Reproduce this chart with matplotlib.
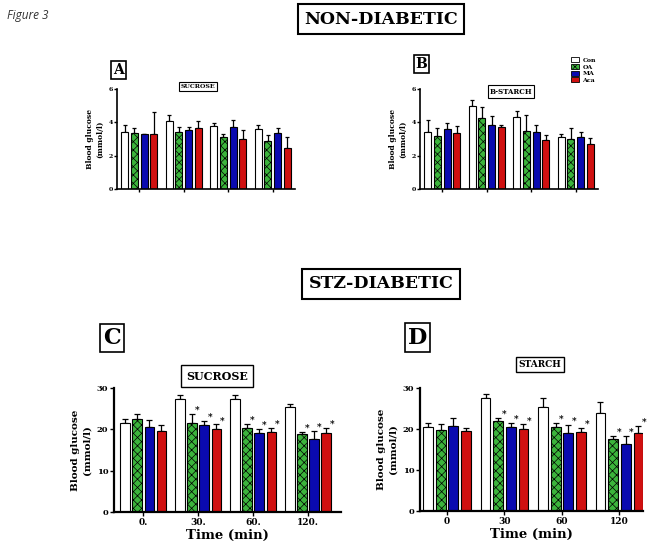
import numpy as np
import matplotlib
matplotlib.use("Agg")
import matplotlib.pyplot as plt
from matplotlib.patches import Patch

W, H = 653, 546

# data (Blood glucose, mmol/l) -- groups are 0, 30, 60, 120 min
groups = ["Con", "OA", "MA", "Aca"]
times_c = ["0.", "30.", "60.", "120."]
times_d = ["0", "30", "60", "120"]

# A: non-diabetic, sucrose
a_mean = [[3.4, 4.1, 3.8, 3.62],
          [3.35, 3.42, 3.12, 2.9],
          [3.28, 3.55, 3.75, 3.38],
          [3.3, 3.65, 3.02, 2.48]]
a_err = [[0.46, 0.36, 0.18, 0.22],
         [0.3, 0.3, 0.16, 0.36],
         [0.05, 0.2, 0.42, 0.28],
         [1.3, 0.46, 0.54, 0.64]]

# B: non-diabetic, starch
b_mean = [[3.42, 4.96, 4.34, 3.1],
          [3.2, 4.24, 3.5, 3.02],
          [3.58, 3.86, 3.44, 3.1],
          [3.36, 3.72, 2.96, 2.7]]
b_err = [[0.7, 0.4, 0.34, 0.2],
         [0.44, 0.66, 0.94, 0.64],
         [0.38, 0.5, 0.4, 0.34],
         [0.42, 0.14, 0.3, 0.36]]

# C: STZ-diabetic, sucrose
c_mean = [[21.5, 27.4, 27.3, 25.5],
          [22.5, 21.6, 20.4, 18.8],
          [20.6, 21.0, 19.0, 17.6],
          [19.7, 20.2, 19.3, 19.0]]
c_err = [[1.0, 0.8, 0.9, 0.7],
         [1.1, 2.1, 0.9, 0.6],
         [1.6, 1.0, 1.2, 2.0],
         [1.3, 1.0, 1.1, 1.4]]

# D: STZ-diabetic, starch
d_mean = [[20.4, 27.6, 25.3, 24.0],
          [19.8, 22.0, 20.6, 17.5],
          [20.8, 20.4, 19.0, 16.4],
          [19.6, 20.1, 19.3, 19.0]]
d_err = [[1.0, 1.0, 2.3, 2.6],
         [1.5, 0.8, 0.9, 0.8],
         [1.9, 1.0, 2.0, 2.0],
         [0.7, 1.0, 1.0, 1.7]]

# significance stars (series index, group index)
stars = [(1, 1), (2, 1), (3, 1), (1, 2), (2, 2), (3, 2), (1, 3), (2, 3), (3, 3)]

colors = ["white", "#3cb43c", "#0a0ab0", "#d01010"]
hatches = [None, "xxxx", None, None]
SERIF = "DejaVu Serif"

plt.rcParams["hatch.color"] = "#1c641c"
plt.rcParams["hatch.linewidth"] = 0.5

fig = plt.figure(figsize=(W / 100, H / 100), dpi=100)


def px_box(x0, y0, x1, y1):
    return [x0 / W, 1 - y1 / H, (x1 - x0) / W, (y1 - y0) / H]


def boxed(x, y, s, size, pad=0.3, lw=1.2):
    fig.text(x / W, 1 - y / H, s, ha="center", va="center", fontsize=size,
             fontweight="bold", family=SERIF,
             bbox=dict(boxstyle="square,pad=%s" % pad, fc="white", ec="black", lw=lw))


def panel(rect, means, errs, ymax, yticks, xlim, big, xt=None, with_stars=False):
    ax = fig.add_axes(px_box(*rect))
    x = np.arange(4)
    step = 0.22
    width = 0.16 if not big else 0.17
    lw_sp = 1.6 if big else 1.2
    for i in range(4):
        pos = x + (i - 1.5) * step
        ax.bar(pos, means[i], width, color=colors[i], edgecolor="black",
               linewidth=0.8, hatch=hatches[i], zorder=2)
        ax.errorbar(pos, means[i], yerr=[np.zeros(4), errs[i]], fmt="none",
                    ecolor="black", elinewidth=0.9, capsize=2 if big else 1.5,
                    capthick=0.9, zorder=1)
    if with_stars:
        for i, g in stars:
            xp = g + (i - 1.5) * step + 0.1
            yp = means[i][g] + errs[i][g] + ymax * 0.03
            ax.text(xp, yp, "*", ha="center", va="center", fontsize=6.5,
                    fontweight="bold", family=SERIF)
    ax.set_xlim(*xlim)
    ax.set_ylim(0, ymax)
    ax.set_yticks(yticks)
    ax.set_xticks(x)
    for s in ["top", "right"]:
        ax.spines[s].set_visible(False)
    for s in ["left", "bottom"]:
        ax.spines[s].set_linewidth(lw_sp)
    ax.tick_params(axis="both", width=1.0, length=3 if big else 2,
                   labelsize=6 if big else 4.5, pad=1)
    for t in ax.get_yticklabels():
        t.set_fontweight("bold")
        t.set_family(SERIF)
    if xt is None:
        ax.set_xticklabels([])
    else:
        ax.set_xticklabels(xt, fontsize=6.5, fontweight="bold", family=SERIF)
        ax.set_xlabel("Time (min)", fontsize=9.5, fontweight="bold", family=SERIF,
                      labelpad=2)
    ax.set_ylabel("Blood glucose\n(mmol/l)", fontsize=7.5 if big else 5.5,
                  fontweight="bold", family=SERIF, labelpad=4 if big else 3,
                  linespacing=1.3)
    return ax


fig.text(7 / W, 1 - 15 / H, "Figure 3", fontsize=8.5, style="italic", family="Open Sans",
         color="#333333", va="center")

boxed(381, 19, "NON-DIABETIC", 12.5, pad=0.35, lw=1.5)
boxed(381, 284, "STZ-DIABETIC", 12.5, pad=0.35, lw=1.5)

panel((117, 89, 295, 189), a_mean, a_err, 6, [0, 2, 4, 6], (-0.5, 3.5), False)
panel((420, 89, 598, 189), b_mean, b_err, 6, [0, 2, 4, 6], (-0.5, 3.5), False)
panel((114, 388, 341, 512), c_mean, c_err, 30, [0, 10, 20, 30], (-0.53, 3.6), True,
      xt=times_c, with_stars=True)
panel((420, 388, 643, 511), d_mean, d_err, 30, [0, 10, 20, 30], (-0.47, 3.41), True,
      xt=times_d, with_stars=True)

boxed(118.5, 70, "A", 10, pad=0.15)
boxed(421.5, 64, "B", 10, pad=0.15)
boxed(112, 338, "C", 16, pad=0.15)
boxed(417.5, 337.5, "D", 16, pad=0.15)

boxed(198, 86.5, "SUCROSE", 4.5, pad=0.3, lw=0.8)
boxed(511, 91.5, "B-STARCH", 5, pad=0.3, lw=0.8)
boxed(217, 376, "SUCROSE", 8, pad=0.5, lw=1.0)
boxed(540, 364.5, "STARCH", 6.5, pad=0.3, lw=1.0)

handles = [Patch(facecolor=colors[i], edgecolor="black", hatch=hatches[i], lw=0.6)
           for i in range(4)]
fig.legend(handles, groups, loc="upper left", bbox_to_anchor=(568 / W, 1 - 54 / H),
           frameon=False, prop=dict(family=SERIF, weight="bold", size=4.5),
           handlelength=1.3, handleheight=0.9, labelspacing=0.15, handletextpad=0.5,
           borderpad=0)

fig.savefig("out.png", dpi=100)
